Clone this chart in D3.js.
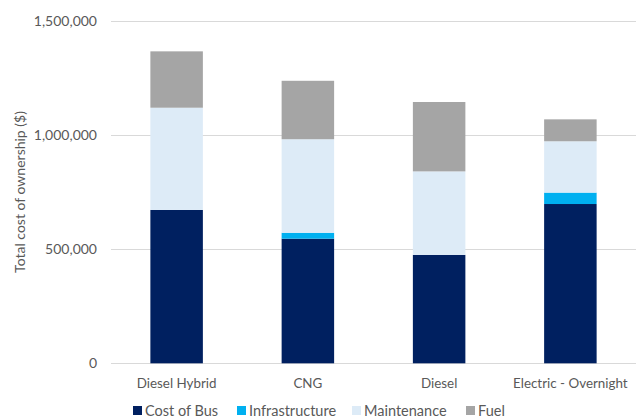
<!DOCTYPE html>
<html>
<head>
<meta charset="utf-8">
<script src="https://cdn.jsdelivr.net/npm/d3@7"></script>
<style>
  body { margin: 0; background: #fff; }
  text { font-family: Lato, "Open Sans", sans-serif; fill: #595959; }
</style>
</head>
<body>
<div id="chart"></div>
<script>
// chart data
const categories = ['Diesel Hybrid', 'CNG', 'Diesel', 'Electric - Overnight']
const series = ['Cost of Bus', 'Infrastructure', 'Maintenance', 'Fuel']
const costOfBus = [672000, 546000, 475000, 698000]
const infrastructure = [0, 26000, 0, 50000]
const maintenance = [448000, 410000, 366000, 225000]
const fuel = [247000, 256000, 304000, 96000]
const yTicks = [0, 500000, 1000000, 1500000]

const colors = ['#002060', '#00B0F0', '#DDEBF7', '#A5A5A5']

const W = 636, H = 419
const margin = { top: 21, right: 0, bottom: 56, left: 111 }

const svg = d3.select('#chart').append('svg')
  .attr('width', W).attr('height', H)

const rows = categories.map((c, i) => ({
  cat: c,
  'Cost of Bus': costOfBus[i],
  'Infrastructure': infrastructure[i],
  'Maintenance': maintenance[i],
  'Fuel': fuel[i]
}))

const stacked = d3.stack().keys(series)(rows)

const x = d3.scaleBand()
  .domain(categories)
  .range([margin.left, W - margin.right])
  .paddingInner(0.6)
  .paddingOuter(0.3)

const y = d3.scaleLinear()
  .domain([0, 1500000])
  .range([H - margin.bottom + 0.3, margin.top])

// gridlines
svg.append('g')
  .selectAll('line')
  .data(yTicks)
  .join('line')
  .attr('x1', margin.left).attr('x2', W)
  .attr('y1', d => Math.round(y(d)) + 0.5).attr('y2', d => Math.round(y(d)) + 0.5)
  .attr('stroke', '#D9D9D9').attr('stroke-width', 1)

// y axis labels
const yAxis = svg.append('g')
  .attr('transform', `translate(${margin.left - 14},0)`)
  .call(d3.axisLeft(y).tickValues(yTicks).tickFormat(d3.format(',')).tickSize(0))
yAxis.select('.domain').remove()
yAxis.selectAll('text')
  .attr('x', 0)
  .style('font-size', '14px')
  .style('font-family', 'Lato, "Open Sans", sans-serif')
  .attr('fill', '#595959')

// bars
svg.append('g')
  .selectAll('g')
  .data(stacked)
  .join('g')
  .attr('fill', (d, i) => colors[i])
  .selectAll('rect')
  .data(d => d)
  .join('rect')
  .attr('x', d => x(d.data.cat))
  .attr('width', x.bandwidth())
  .attr('y', d => y(d[1]))
  .attr('height', d => y(d[0]) - y(d[1]))

// category labels
svg.append('g')
  .selectAll('text')
  .data(categories)
  .join('text')
  .attr('x', d => x(d) + x.bandwidth() / 2)
  .attr('y', 388)
  .attr('text-anchor', 'middle')
  .style('font-size', '13.4px')
  .text(d => d)

// y axis title
svg.append('text')
  .attr('transform', 'translate(25,192) rotate(-90)')
  .attr('text-anchor', 'middle')
  .style('font-size', '14px')
  .text('Total cost of ownership ($)')

// legend
const legendX = [133, 237, 352, 466]
const legend = svg.append('g')
  .selectAll('g')
  .data(series)
  .join('g')
  .attr('transform', (d, i) => `translate(${legendX[i]},406)`)
legend.append('rect')
  .attr('width', 9).attr('height', 9)
  .attr('fill', (d, i) => colors[i])
legend.append('text')
  .attr('x', 12).attr('y', 10)
  .style('font-size', '14.5px')
  .text(d => d)
</script>
</body>
</html>
